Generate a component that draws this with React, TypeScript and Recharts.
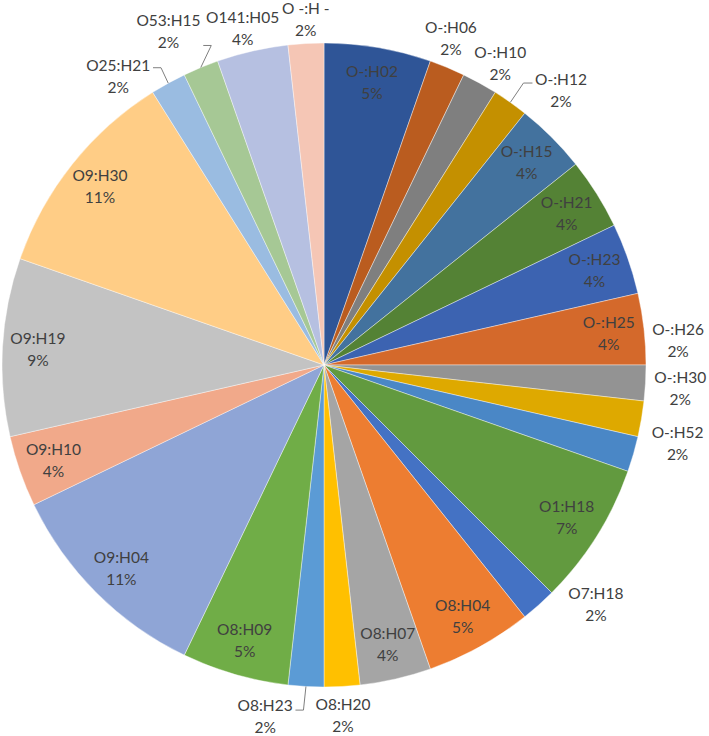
import React from 'react';
import { PieChart, Pie, Cell } from 'recharts';

const categories = [
  'O-:H02', 'O-:H06', 'O-:H10', 'O-:H12', 'O-:H15', 'O-:H21', 'O-:H23', 'O-:H25',
  'O-:H26', 'O-:H30', 'O-:H52', 'O1:H18', 'O7:H18', 'O8:H04', 'O8:H07', 'O8:H20',
  'O8:H23', 'O8:H09', 'O9:H04', 'O9:H10', 'O9:H19', 'O9:H30', 'O25:H21', 'O53:H15',
  'O141:H05', 'O -:H -',
];
const counts = [3, 1, 1, 1, 2, 2, 2, 2, 1, 1, 1, 4, 1, 3, 2, 1, 1, 3, 6, 2, 5, 6, 1, 1, 2, 1];

const sliceColors = [
  '#2F5597', '#BA5C1F', '#7F7F7F', '#C49000', '#43729E', '#548235', '#3C63B1', '#D4692B',
  '#939393', '#DEA900', '#4A87C6', '#629A3F', '#4472C4', '#ED7D31', '#A5A5A5', '#FFC000',
  '#5B9BD5', '#70AD47', '#8FA5D6', '#F1A98A', '#C3C3C3', '#FFCD86', '#9ABCE1', '#A6C895',
  '#B6C0E1', '#F5C6B5',
];

// labels that sit outside the pie: radius, angle shift (deg), optional leader line
const outsideLabels: Record<string, { r: number; shift: number; leader?: 'left' | 'right'; ly?: number }> = {
  'O-:H06': { r: 351, shift: -1.3 },
  'O-:H10': { r: 350, shift: 1.3 },
  'O-:H12': { r: 363, shift: 5.4, leader: 'right', ly: -7 },
  'O-:H26': { r: 355, shift: -7.3 },
  'O-:H30': { r: 357, shift: -6 },
  'O-:H52': { r: 362, shift: -3.7 },
  'O7:H18': { r: 362, shift: -6.9 },
  'O8:H20': { r: 351, shift: 0.1 },
  'O8:H23': { r: 356, shift: 6.3, leader: 'left', ly: -6 },
  'O25:H21': { r: 355, shift: -6.5, leader: 'left', ly: -8 },
  'O53:H15': { r: 368, shift: -2.5, leader: 'left', ly: 14 },
  'O141:H05': { r: 347, shift: -0.7 },
  'O -:H -': { r: 346, shift: 0.2 },
};

const data = categories.map((name, i) => ({ name, value: counts[i] }));

const RAD = Math.PI / 180;
const FONT = 15.5;
const charW: Record<string, number> = { O: 0.774, H: 0.754, ':': 0.255, '-': 0.35, ' ': 0.26 };
const textWidth = (s: string) =>
  s.split('').reduce((w, c) => w + (charW[c] ?? 0.58), 0) * FONT;

const renderLabel = (props: any) => {
  const { cx, cy, midAngle, outerRadius, percent, name } = props;
  const clock = 90 - midAngle;
  const out = outsideLabels[name];
  const r = out ? out.r : outerRadius * 0.89;
  const a = (clock + (out ? out.shift : 0)) * RAD;
  const x = cx + r * Math.sin(a);
  const y = cy - r * Math.cos(a);

  let leader = null;
  if (out && out.leader) {
    const m = clock * RAD;
    const sx = cx + outerRadius * Math.sin(m);
    const sy = cy - outerRadius * Math.cos(m);
    const half = textWidth(name) / 2;
    const ly = y + (out.ly ?? 0);
    const endX = out.leader === 'right' ? x - half - 3 : x + half + 3;
    const elbowX = out.leader === 'right' ? x - half - 12 : x + half + 11;
    leader = (
      <polyline
        points={`${sx},${sy} ${elbowX},${ly} ${endX},${ly}`}
        fill="none"
        stroke="#7F7F7F"
        strokeWidth={1}
      />
    );
  }

  return (
    <g>
      {leader}
      <text x={x} y={y - 11} textAnchor="middle" dominantBaseline="central" fill="#404040" fontSize={FONT}>
        {name}
      </text>
      <text x={x} y={y + 11} textAnchor="middle" dominantBaseline="central" fill="#404040" fontSize={FONT}>
        {`${Math.round(percent * 100)}%`}
      </text>
    </g>
  );
};

export default function App() {
  return (
    <div
      style={{
        position: 'absolute',
        left: 0,
        top: 0,
        width: 709,
        height: 736,
        background: '#fff',
        fontFamily: 'Lato, sans-serif',
      }}
    >
      <PieChart width={709} height={736} margin={{ top: 0, right: 0, bottom: 0, left: 0 }}>
        <Pie
          data={data}
          dataKey="value"
          nameKey="name"
          cx={324}
          cy={365}
          outerRadius={322}
          startAngle={90}
          endAngle={-270}
          stroke="#ffffff"
          strokeOpacity={0.5}
          strokeWidth={0.8}
          labelLine={false}
          label={renderLabel}
          isAnimationActive={false}
        >
          {data.map((d, i) => (
            <Cell key={d.name} fill={sliceColors[i]} />
          ))}
        </Pie>
      </PieChart>
    </div>
  );
}
